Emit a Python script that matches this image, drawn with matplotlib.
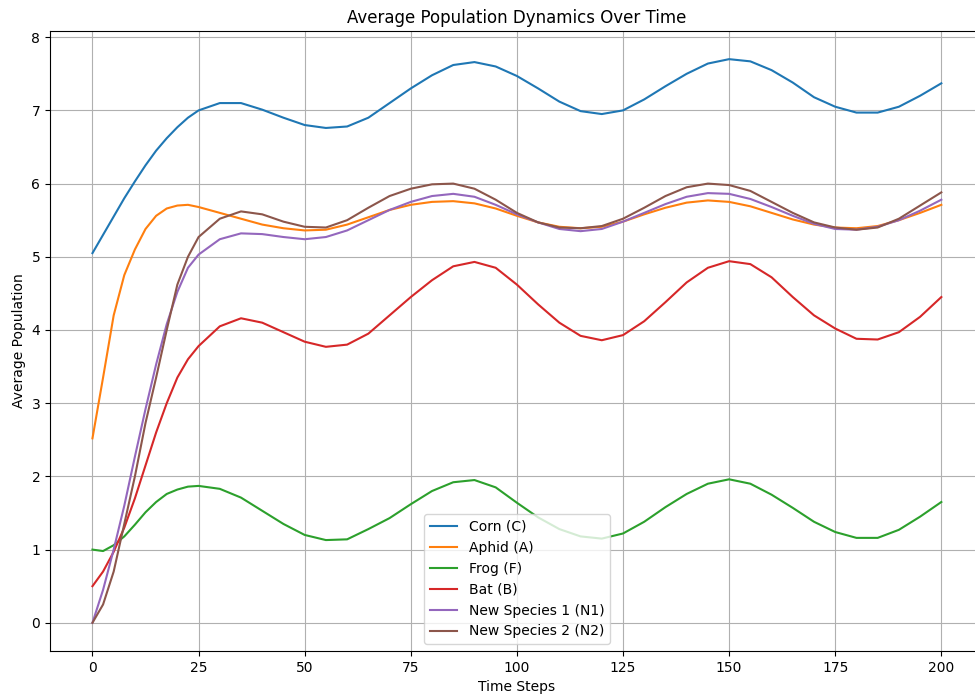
import matplotlib
matplotlib.use("Agg")
import matplotlib.pyplot as plt

# =======================================================
# Data
# =======================================================
time_steps = [0, 2.5, 5, 7.5, 10, 12.5, 15, 17.5, 20, 22.5, 25,
              30, 35, 40, 45, 50, 55, 60, 65, 70, 75, 80, 85, 90, 95,
              100, 105, 110, 115, 120, 125, 130, 135, 140, 145, 150,
              155, 160, 165, 170, 175, 180, 185, 190, 195, 200]

corn = [5.05, 5.30, 5.55, 5.80, 6.03, 6.25, 6.45, 6.62, 6.77, 6.90, 7.00,
        7.10, 7.10, 7.01, 6.90, 6.80, 6.76, 6.78, 6.90, 7.10, 7.30, 7.48, 7.62, 7.66, 7.60,
        7.47, 7.30, 7.12, 6.99, 6.95, 7.00, 7.15, 7.33, 7.50, 7.64, 7.70,
        7.67, 7.55, 7.38, 7.18, 7.05, 6.97, 6.97, 7.05, 7.20, 7.37]

aphid = [2.52, 3.35, 4.20, 4.75, 5.10, 5.38, 5.56, 5.66, 5.70, 5.71, 5.68,
         5.60, 5.52, 5.44, 5.39, 5.36, 5.37, 5.44, 5.54, 5.64, 5.71, 5.75, 5.76, 5.73, 5.66,
         5.56, 5.47, 5.41, 5.39, 5.41, 5.48, 5.58, 5.67, 5.74, 5.77, 5.75,
         5.69, 5.60, 5.51, 5.44, 5.40, 5.39, 5.42, 5.50, 5.60, 5.71]

frog = [1.00, 0.98, 1.06, 1.18, 1.34, 1.51, 1.65, 1.76, 1.82, 1.86, 1.87,
        1.83, 1.71, 1.53, 1.35, 1.20, 1.13, 1.14, 1.28, 1.43, 1.62, 1.80, 1.92, 1.95, 1.85,
        1.64, 1.44, 1.28, 1.18, 1.15, 1.22, 1.38, 1.58, 1.76, 1.90, 1.96,
        1.90, 1.75, 1.57, 1.38, 1.24, 1.16, 1.16, 1.27, 1.45, 1.65]

bat = [0.50, 0.70, 0.97, 1.30, 1.70, 2.15, 2.60, 3.00, 3.35, 3.60, 3.78,
       4.05, 4.16, 4.10, 3.97, 3.84, 3.77, 3.80, 3.95, 4.20, 4.45, 4.68, 4.87, 4.93, 4.85,
       4.62, 4.35, 4.10, 3.92, 3.86, 3.93, 4.12, 4.38, 4.65, 4.85, 4.94,
       4.90, 4.72, 4.45, 4.20, 4.02, 3.88, 3.87, 3.97, 4.18, 4.45]

new_species_1 = [0.00, 0.45, 1.00, 1.60, 2.27, 2.92, 3.53, 4.08, 4.52, 4.85, 5.03,
                 5.24, 5.32, 5.31, 5.27, 5.24, 5.27, 5.36, 5.50, 5.64, 5.75, 5.83, 5.86, 5.82, 5.71,
                 5.58, 5.47, 5.38, 5.35, 5.38, 5.48, 5.60, 5.72, 5.82, 5.87, 5.86,
                 5.79, 5.68, 5.56, 5.45, 5.38, 5.37, 5.41, 5.50, 5.63, 5.78]

new_species_2 = [0.00, 0.25, 0.70, 1.35, 2.00, 2.73, 3.35, 4.00, 4.62, 5.00, 5.27,
                 5.52, 5.62, 5.58, 5.48, 5.41, 5.40, 5.50, 5.67, 5.83, 5.93, 5.99, 6.00, 5.93, 5.78,
                 5.60, 5.47, 5.40, 5.39, 5.42, 5.52, 5.67, 5.83, 5.95, 6.00, 5.98,
                 5.90, 5.75, 5.60, 5.47, 5.40, 5.37, 5.40, 5.52, 5.70, 5.88]

series_labels = ["Corn (C)", "Aphid (A)", "Frog (F)", "Bat (B)",
                 "New Species 1 (N1)", "New Species 2 (N2)"]

# =======================================================
# Plot
# =======================================================
fig = plt.figure(figsize=(9.75, 6.96), dpi=100)
ax = fig.add_axes([0.0513, 0.0647, 0.9577, 0.8908])

all_series = [corn, aphid, frog, bat, new_species_1, new_species_2]
for values, label in zip(all_series, series_labels):
    ax.plot(time_steps, values, label=label)

ax.set_xlim(-10, 210)
ax.set_title("Average Population Dynamics Over Time")
ax.set_xlabel("Time Steps")
ax.set_ylabel("Average Population")
ax.legend(loc="lower center")
ax.grid(True)

fig.savefig("out.png", dpi=100)
